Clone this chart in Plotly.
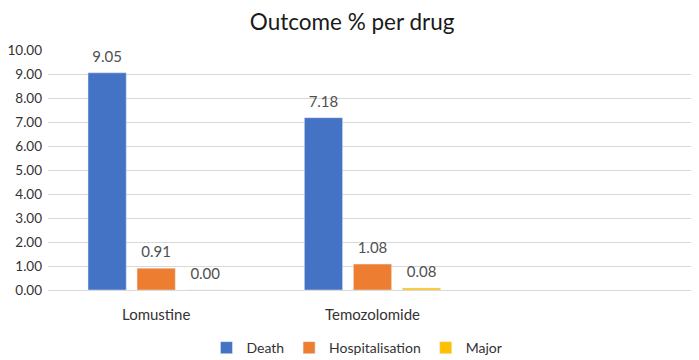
import plotly.graph_objects as go

drugs = ["Lomustine", "Temozolomide"]
death = [9.05, 7.18]
hospitalisation = [0.91, 1.08]
major = [0.00, 0.08]
y_ticks = [0, 1, 2, 3, 4, 5, 6, 7, 8, 9, 10]

FONT = "Lato, 'Open Sans', sans-serif"
series = [("Death", death, "#4472C4"),
          ("Hospitalisation", hospitalisation, "#ED7D31"),
          ("Major", major, "#FFC000")]

fig = go.Figure()
for name, vals, color in series:
    fig.add_trace(go.Bar(
        x=drugs, y=vals, name=name, marker_color=color,
        offsetgroup=name, alignmentgroup="g",
    ))
for name, vals, color in series:
    # value labels, placed over each bar via grouped scatter positioning
    fig.add_trace(go.Scatter(
        x=drugs, y=vals, mode="markers+text", showlegend=False, hoverinfo="skip",
        offsetgroup=name, alignmentgroup="g",
        marker=dict(size=10, opacity=0),
        text=[f"{v:.2f}" for v in vals], textposition="top center",
        textfont=dict(size=15, color="#505050", family=FONT),
        cliponaxis=False,
    ))

# page body has an 8px margin, so the figure is sized to fit the 699x360 window
fig.update_layout(
    width=691, height=352,
    margin=dict(l=40, r=2, t=42, b=70, autoexpand=False),
    paper_bgcolor="white", plot_bgcolor="white",
    font=dict(family=FONT, color="#404040"),
    title=dict(text="Outcome % per drug", x=0.498, xanchor="center", y=0.96, yanchor="middle",
               font=dict(size=22.5, color="#1a1a1a", family=FONT)),
    barmode="group", bargap=0.32, bargroupgap=0.22,
    scattermode="group", scattergap=0.32,
    legend=dict(orientation="h", xref="container", yref="container",
                x=0.505, xanchor="center", y=0.034, yanchor="middle",
                font=dict(size=14, color="#333333", family=FONT),
                itemwidth=30, traceorder="normal"),
    showlegend=True,
)
fig.update_xaxes(type="category", range=[-0.5, 2.5], showgrid=False, showline=False,
                 automargin=False, ticks="", ticklabelstandoff=14,
                 tickfont=dict(size=15, color="#333333", family=FONT))
fig.update_yaxes(range=[0, 10], tickvals=y_ticks, tickformat=".2f",
                 showgrid=True, gridcolor="#D9D9D9", gridwidth=1.3,
                 zeroline=True, zerolinecolor="#D9D9D9", zerolinewidth=1.3,
                 showline=False, ticks="", ticklabelstandoff=5, automargin=False,
                 tickfont=dict(size=13.5, color="#333333", family=FONT))

fig.write_html("out.html")
